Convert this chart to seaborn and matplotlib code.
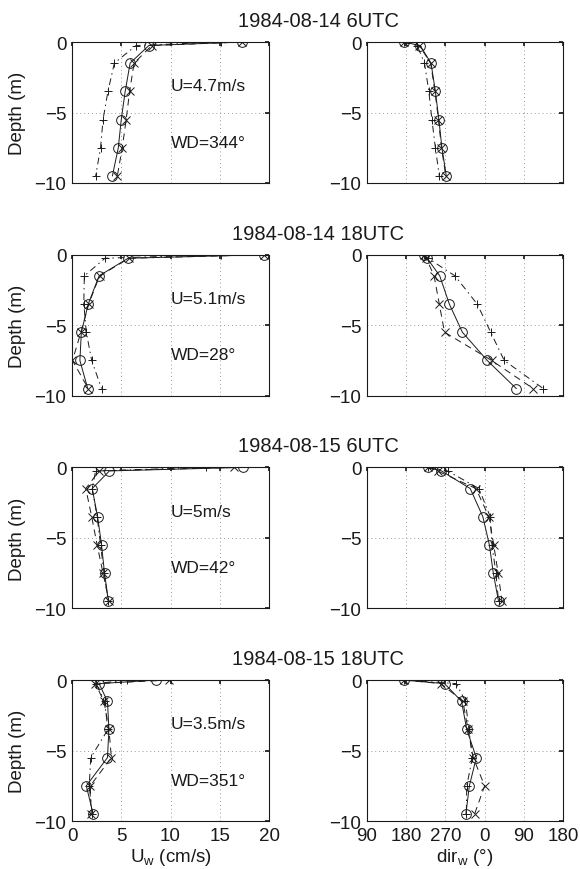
import numpy as np
import pandas as pd
import matplotlib
matplotlib.use("Agg")
import matplotlib.pyplot as plt
import seaborn as sns

# ── Data ──────────────────────────────────────────────────────────────────────
titles = ["1984-08-14 6UTC", "1984-08-14 18UTC", "1984-08-15 6UTC", "1984-08-15 18UTC"]
wind_speed = [4.7, 5.1, 5, 3.5]          # m/s
wind_dir   = [344, 28, 42, 351]          # degrees

depth = [0, -0.25, -1.5, -3.5, -5.5, -7.5, -9.5]

# current speed (cm/s), one row per case
speed_o = [[17.3, 7.8, 5.9, 5.4, 5.0, 4.7, 4.1],
           [19.5, 5.7, 2.75, 1.65, 0.95, 0.8, 1.6],
           [17.4, 3.8, 2.05, 2.6, 3.0, 3.3, 3.7],
           [8.5, 2.75, 3.6, 3.75, 3.6, 1.45, 2.15]]
speed_x = [[17.3, 8.1, 6.3, 5.85, 5.5, 5.1, 4.6],
           [19.5, 5.8, 2.8, 1.7, 0.9, 0.05, 1.65],
           [16.4, 2.75, 1.4, 2.0, 2.55, 3.15, 3.75],
           [9.8, 2.35, 3.25, 3.75, 4.0, 1.85, 1.95]]
speed_p = [[15.1, 6.5, 4.3, 3.65, 3.15, 2.9, 2.4],
           [15.1, 3.35, 1.25, 1.2, 1.45, 2.0, 3.0],
           [13.6, 2.4, 2.05, 2.55, 2.9, 3.25, 3.7],
           [5.6, 2.45, 3.3, 3.65, 1.9, 1.75, 2.05]]

# current direction (deg)
dir_o = [[174, 212, 237, 247, 255, 262, 272],
         [220, 228, 257, 279, 309, 6, 73],
         [230, 261, 327, 356, 11, 20, 32],
         [176, 268, 307, 319, 341, 325, 317]]
dir_x = [[174, 210, 236, 246, 254, 261, 271],
         [220, 226, 244, 256, 268, 16, 112],
         [230, 252, 340, 10, 21, 31, 40],
         [176, 260, 310, 322, 334, 0, 337]]
dir_p = [[174, 205, 222, 232, 239, 247, 256],
         [220, 230, 292, 343, 14, 45, 135],
         [230, 275, 347, 13, 17, 26, 32],
         [176, 295, 316, 324, 332, 319, 318]]

dir_ticks = [90, 180, 270, 360, 450, 540]
dir_ticklabels = ["90", "180", "270", "0", "90", "180"]

# ── Style ─────────────────────────────────────────────────────────────────────
sns.set_theme(style="white")
plt.rcParams["font.family"] = ["Liberation Sans", "DejaVu Sans"]
plt.rcParams["mathtext.fontset"] = "custom"
plt.rcParams["mathtext.rm"] = "Liberation Sans"
plt.rcParams["axes.unicode_minus"] = True
plt.rcParams["text.color"] = "k"
plt.rcParams["axes.labelcolor"] = "k"

line_styles = {
    "o": dict(linestyle="-", marker="o", markersize=7),
    "x": dict(linestyle=(0, (7, 5)), marker="x", markersize=5.5),
    "+": dict(linestyle=(0, (7, 4, 1.5, 4)), marker="+", markersize=6),
}
common = dict(color="k", linewidth=0.7, markeredgewidth=0.7,
              markeredgecolor="k", markerfacecolor="none",
              estimator=None, sort=False, legend=False)

W, H = 580, 870
fig = plt.figure(figsize=(W / 100, H / 100), dpi=100)

ax_h = 141
tops = [43 + i * 212.7 for i in range(4)]


def style_axes(ax, last):
    ax.set_ylim(-10, 0)
    ax.set_yticks([0, -5, -10])
    ax.grid(True, linestyle=(0, (1, 3)), color="0.6", linewidth=0.7)
    for s in ax.spines.values():
        s.set_visible(True)
        s.set_color("k")
        s.set_linewidth(0.8)
    ax.tick_params(direction="in", length=3, top=True, right=True,
                   labelsize=13.5, pad=4, colors="k")
    if not last:
        ax.tick_params(labelbottom=False)
    ax.set_xlabel("")
    ax.set_ylabel("")


for i in range(4):
    bottom = 1 - (tops[i] + ax_h) / H
    axl = fig.add_axes([72 / W, bottom, 197 / W, ax_h / H])
    axr = fig.add_axes([367 / W, bottom, 196 / W, ax_h / H])
    last = i == 3

    # speed profiles
    for key, vals in (("x", speed_x), ("+", speed_p), ("o", speed_o)):
        sns.lineplot(x=vals[i], y=depth, ax=axl, **line_styles[key], **common)
    axl.set_xlim(0, 20)
    axl.set_xticks([0, 5, 10, 15, 20])
    style_axes(axl, last)
    axl.set_ylabel("Depth (m)", fontsize=13.5)
    axl.yaxis.set_label_coords(-0.235, 0.5)

    axl.text(10, -3.1, f"U={wind_speed[i]:g}m/s", fontsize=12.5, va="center", ha="left")
    axl.text(10, -7.1, f"WD={wind_dir[i]:g}°", fontsize=12.5, va="center", ha="left")

    # direction profiles (unwrapped so they stay continuous)
    for key, vals in (("x", dir_x), ("+", dir_p), ("o", dir_o)):
        d = np.unwrap(np.asarray(vals[i], dtype=float), period=360)
        sns.lineplot(x=d, y=depth, ax=axr, **line_styles[key], **common)
    axr.set_xlim(90, 540)
    axr.set_xticks(dir_ticks)
    axr.set_xticklabels(dir_ticklabels)
    style_axes(axr, last)

    fig.text(318 / W, 1 - (tops[i] - 21.5) / H, titles[i], fontsize=14.5,
             ha="center", va="center")

    if last:
        axl.set_xlabel(r"U$_{\rm w}$ (cm/s)", fontsize=13.5)
        axr.set_xlabel(r"dir$_{\rm w}$ ($\degree$)", fontsize=13.5)
        axl.xaxis.set_label_coords(0.5, -0.175)
        axr.xaxis.set_label_coords(0.5, -0.175)

fig.savefig("out.png", dpi=100)
